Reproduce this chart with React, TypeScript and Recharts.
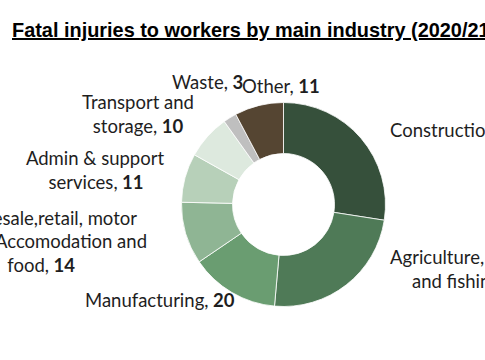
import React from "react";
import { PieChart, Pie, Cell } from "recharts";

const industries = [
  "Construction",
  "Agriculture, forestry and fishing",
  "Manufacturing",
  "Wholesale, retail, motor repair; Accomodation and food",
  "Admin & support services",
  "Transport and storage",
  "Waste",
  "Other",
];
const fatalities = [39, 34, 20, 14, 11, 10, 3, 11];
const labelLines: string[][] = [
  ["Construction"],
  ["Agriculture, forestry", "and fishing"],
  ["Manufacturing"],
  ["Wholesale,retail, motor", "repair; Accomodation and", "food"],
  ["Admin & support", "services"],
  ["Transport and", "storage"],
  ["Waste"],
  ["Other"],
];

const COLORS = ["#36503b", "#4f7a57", "#6a9d71", "#8fb594", "#b7d0b9", "#dde9de", "#bfbfbf", "#554532"];

// layout for labels: [x, y, anchor] per line
const LABEL_LAYOUT: [number, number, "start" | "middle" | "end"][][] = [
  [[390, 137, "start"]],
  [[390, 264, "start"], [412, 288, "start"]],
  [[85, 307, "start"]],
  [[137, 225, "end"], [147, 248, "end"], [75, 272, "end"]],
  [[95, 165, "middle"], [96, 189, "middle"]],
  [[138, 109, "middle"], [138, 133, "middle"]],
  [[172, 89, "start"]],
  [[242, 93, "start"]],
];

const data = industries.map((name, i) => ({ name, value: fatalities[i] }));

const FONT = "Lato, 'Open Sans', sans-serif";

const renderLabel = (props: any) => {
  const i = props.index;
  const lines = labelLines[i];
  const layout = LABEL_LAYOUT[i];
  return (
    <g key={`lbl-${i}`}>
      {lines.map((line, j) => {
        const [x, y, anchor] = layout[j];
        const last = j === lines.length - 1;
        return (
          <text
            key={j}
            x={x}
            y={y}
            textAnchor={anchor}
            fontFamily={FONT}
            fontSize={18.5}
            fill="#1e1e1e"
          >
            {line}
            {last ? (
              <>
                ,<tspan fontWeight="bold"> {data[i].value}</tspan>
              </>
            ) : null}
          </text>
        );
      })}
    </g>
  );
};

export default function App() {
  return (
    <div style={{ position: "absolute", left: 0, top: 0, width: 485, height: 360, background: "#fff" }}>
      <PieChart width={485} height={360} margin={{ top: 0, right: 0, bottom: 0, left: 0 }}>
        <text
          x={12}
          y={37}
          fontFamily="'Liberation Sans', Arial, sans-serif"
          fontWeight="bold"
          fontSize={19.9}
          fill="#000"
          textDecoration="underline"
        >
          Fatal injuries to workers by main industry (2020/21)
        </text>
        <Pie
          data={data}
          dataKey="value"
          nameKey="name"
          cx={283.5}
          cy={204.5}
          innerRadius={51}
          outerRadius={102}
          startAngle={90}
          endAngle={-270}
          stroke="#ffffff"
          strokeWidth={0.8}
          isAnimationActive={false}
          labelLine={false}
          label={renderLabel}
        >
          {data.map((d, i) => (
            <Cell key={d.name} fill={COLORS[i]} />
          ))}
        </Pie>
      </PieChart>
    </div>
  );
}
